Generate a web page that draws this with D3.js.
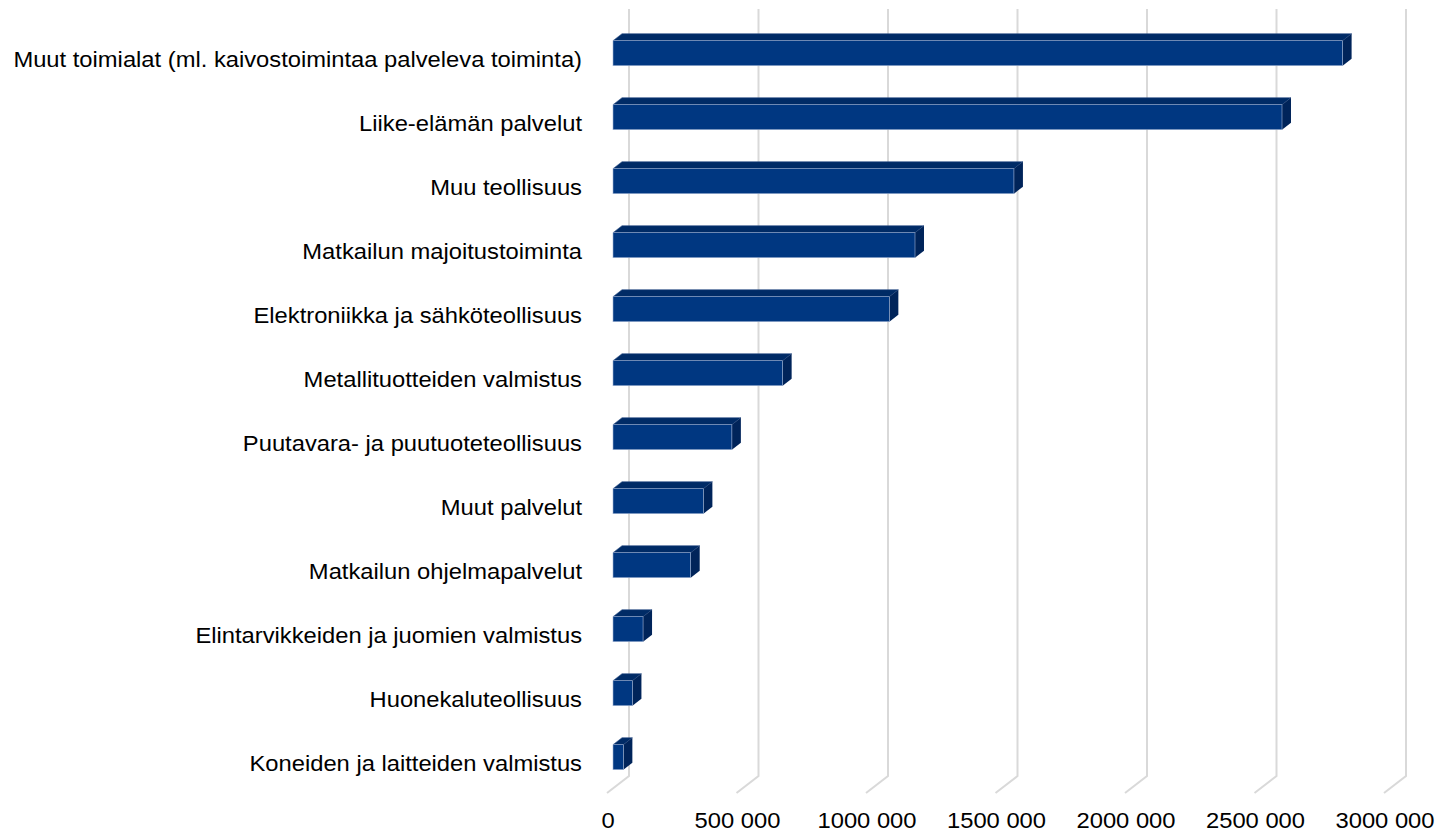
<!DOCTYPE html>
<html>
<head>
<meta charset="utf-8">
<title>Toimialat</title>
<script src="https://cdn.jsdelivr.net/npm/d3@7"></script>
<style>
  body { margin: 0; background: #fff; }
  text { font-family: "Liberation Sans", Arial, sans-serif; fill: #000; }
</style>
</head>
<body>
<script>
  // toimialat ylhäältä alas
  var categories = [
    "Muut toimialat (ml. kaivostoimintaa palveleva toiminta)",
    "Liike-elämän palvelut",
    "Muu teollisuus",
    "Matkailun majoitustoiminta",
    "Elektroniikka ja sähköteollisuus",
    "Metallituotteiden valmistus",
    "Puutavara- ja puutuoteteollisuus",
    "Muut palvelut",
    "Matkailun ohjelmapalvelut",
    "Elintarvikkeiden ja juomien valmistus",
    "Huonekaluteollisuus",
    "Koneiden ja laitteiden valmistus"
  ];
  var values = [2817000, 2583000, 1548000, 1166000, 1067000, 655000,
                459000, 349000, 300000, 116000, 75000, 40000];
  var ticks = [0, 500000, 1000000, 1500000, 2000000, 2500000, 3000000];
  var tickLabels = ["0", "500 000", "1000 000", "1500 000", "2000 000", "2500 000", "3000 000"];

  var width = 1436, height = 832;
  var svg = d3.select("body").append("svg")
      .attr("width", width)
      .attr("height", height);

  var x = d3.scaleLinear().domain([0, 3000000]).range([613, 1390]);
  var p = 39 / 64;
  var y = d3.scaleBand().domain(categories).range([21.2, 21.2 + 768])
      .paddingInner(p).paddingOuter(p / 2);

  // 3D syvyys
  var bdx = 9, bdy = -7;      // palkin syvyys
  var gBack = 16, gFront = -6; // ruudukon taka/etu siirto
  var floorBack = 776, floorFront = 793;
  var stretch = 1.08;         // teksti on hieman leveämpää

  // ruudukko
  svg.append("g").selectAll("path")
    .data(ticks)
    .enter()
    .append("path")
    .attr("d", function(d) {
      var xb = x(d) + gBack, xf = x(d) + gFront;
      return "M" + xb + ",9 L" + xb + "," + floorBack + " L" + xf + "," + floorFront;
    })
    .attr("fill", "none")
    .attr("stroke", "#d9d9d9")
    .attr("stroke-width", 2);

  // palkit
  var bars = svg.append("g").selectAll("g")
    .data(values)
    .enter()
    .append("g");

  // yläpinta
  bars.append("path")
    .attr("d", function(d, i) {
      var x0 = x(0), x1 = x(d), yt = y(categories[i]);
      return "M" + x0 + "," + yt + " L" + (x0 + bdx) + "," + (yt + bdy) +
        " L" + (x1 + bdx) + "," + (yt + bdy) + " L" + x1 + "," + yt + "Z";
    })
    .attr("fill", "#002b66")
    .attr("stroke", "#2c4f86")
    .attr("stroke-width", 0.6);

  // sivupinta
  bars.append("path")
    .attr("d", function(d, i) {
      var x1 = x(d), yt = y(categories[i]), yb = yt + y.bandwidth();
      return "M" + x1 + "," + yt + " L" + (x1 + bdx) + "," + (yt + bdy) +
        " L" + (x1 + bdx) + "," + (yb + bdy) + " L" + x1 + "," + yb + "Z";
    })
    .attr("fill", "#00245a");

  // etupinta
  bars.append("rect")
    .attr("x", x(0))
    .attr("y", function(d, i) { return y(categories[i]); })
    .attr("width", function(d) { return x(d) - x(0); })
    .attr("height", y.bandwidth())
    .attr("fill", "#003781")
    .attr("stroke", "#9fb2d3")
    .attr("stroke-width", 0.6);

  // luokkien nimet
  svg.append("g").selectAll("text")
    .data(categories)
    .enter()
    .append("text")
    .attr("transform", function(d) {
      return "translate(582," + (y(d) + 26) + ") scale(" + stretch + ",1)";
    })
    .attr("text-anchor", "end")
    .style("font-size", "22px")
    .text(function(d) { return d; });

  // x-akselin arvot
  svg.append("g").selectAll("text")
    .data(ticks)
    .enter()
    .append("text")
    .attr("transform", function(d) {
      return "translate(" + (x(d) + gFront + 1) + ",828) scale(" + stretch + ",1)";
    })
    .attr("text-anchor", "middle")
    .style("font-size", "22px")
    .text(function(d, i) { return tickLabels[i]; });
</script>
</body>
</html>
